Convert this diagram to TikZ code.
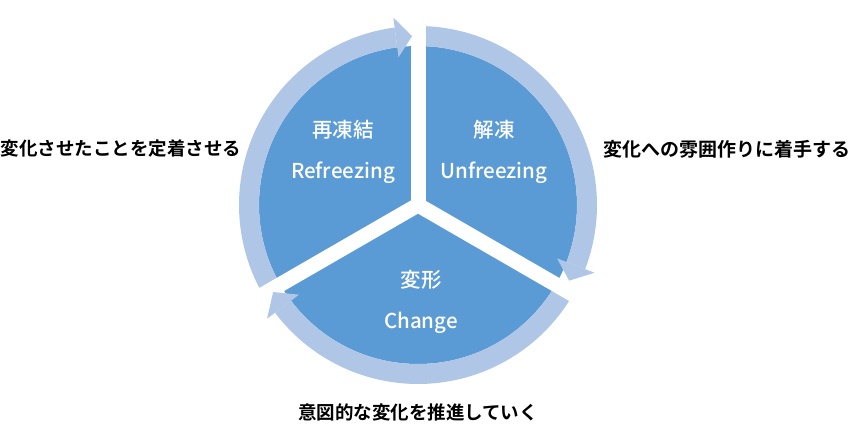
\documentclass[tikz,border=0pt]{standalone}
\usepackage{fontspec}
\setmainfont{Noto Sans CJK JP}[BoldFont={Noto Sans CJK JP Bold}]
\newfontfamily\midfont{Noto Sans CJK JP Medium}
\usepackage{tikz}
\usepackage{xcolor}
\definecolor{pieblue}{RGB}{91,155,213}
\definecolor{ringblue}{RGB}{176,198,230}
\tikzstyle{ringband} = [fill=ringblue]
\tikzstyle{gapline} = [draw=white, line width=15pt]
\tikzstyle{stage} = [text=white, font=\midfont\fontsize{20.5}{24}\selectfont]
\tikzstyle{stageen} = [text=white, font=\midfont\fontsize{20.5}{24}\selectfont]
\tikzstyle{note} = [font=\fontsize{18.5}{22}\selectfont\bfseries]

% band of the ring: #1 tail angle, #2 angle where the head starts
\newcommand{\ringband}[2]{%
  \fill[ringband] (#1:159) arc[start angle=#1, end angle=#2, radius=159]
    -- (#2:179) arc[start angle=#2, end angle=#1, radius=179] -- cycle;}
% head of the ring: #1 base angle, #2 tip angle
\newcommand{\ringhead}[2]{%
  \fill[ringband] (#1:149) -- (#2:169) -- (#1:189) -- cycle;}

\begin{document}
\begin{tikzpicture}[x=1pt,y=1pt]
  \useasboundingbox (0,0) rectangle (860,439);
  \begin{scope}[shift={(418,234)}]
    \coordinate (c) at (0,0);
    \fill[pieblue] (c) circle (159);
    \ringband{210}{97.5}
    \ringband{90}{-21}
    \ringband{-30}{-143}
    \draw[gapline] (c) -- (90:186);
    \draw[gapline] (c) -- (-30:186);
    \draw[gapline] (c) -- (210:186);
    \ringhead{97.5}{92}
    \ringhead{-21}{-26.6}
    \ringhead{-143}{-149}
  \end{scope}

  \node[stage] (refreeze_jp) at (343,309) {再凍結};
  \node[stageen] (refreeze_en) at (343,266) {Refreezing};
  \node[stage] (unfreeze_jp) at (494,309) {解凍};
  \node[stageen] (unfreeze_en) at (494,266) {Unfreezing};
  \node[stage] (change_jp) at (421,159) {変形};
  \node[stageen] (change_en) at (421,116) {Change};

  \node[note] (note_left) at (121,290) {変化させたことを定着させる};
  \node[note, font=\fontsize{19}{22}\selectfont\bfseries] (note_right) at (727,290) {変化への雰囲作りに着手する};
  \node[note] (note_bottom) at (418,27) {意図的な変化を推進していく};
\end{tikzpicture}
\end{document}
